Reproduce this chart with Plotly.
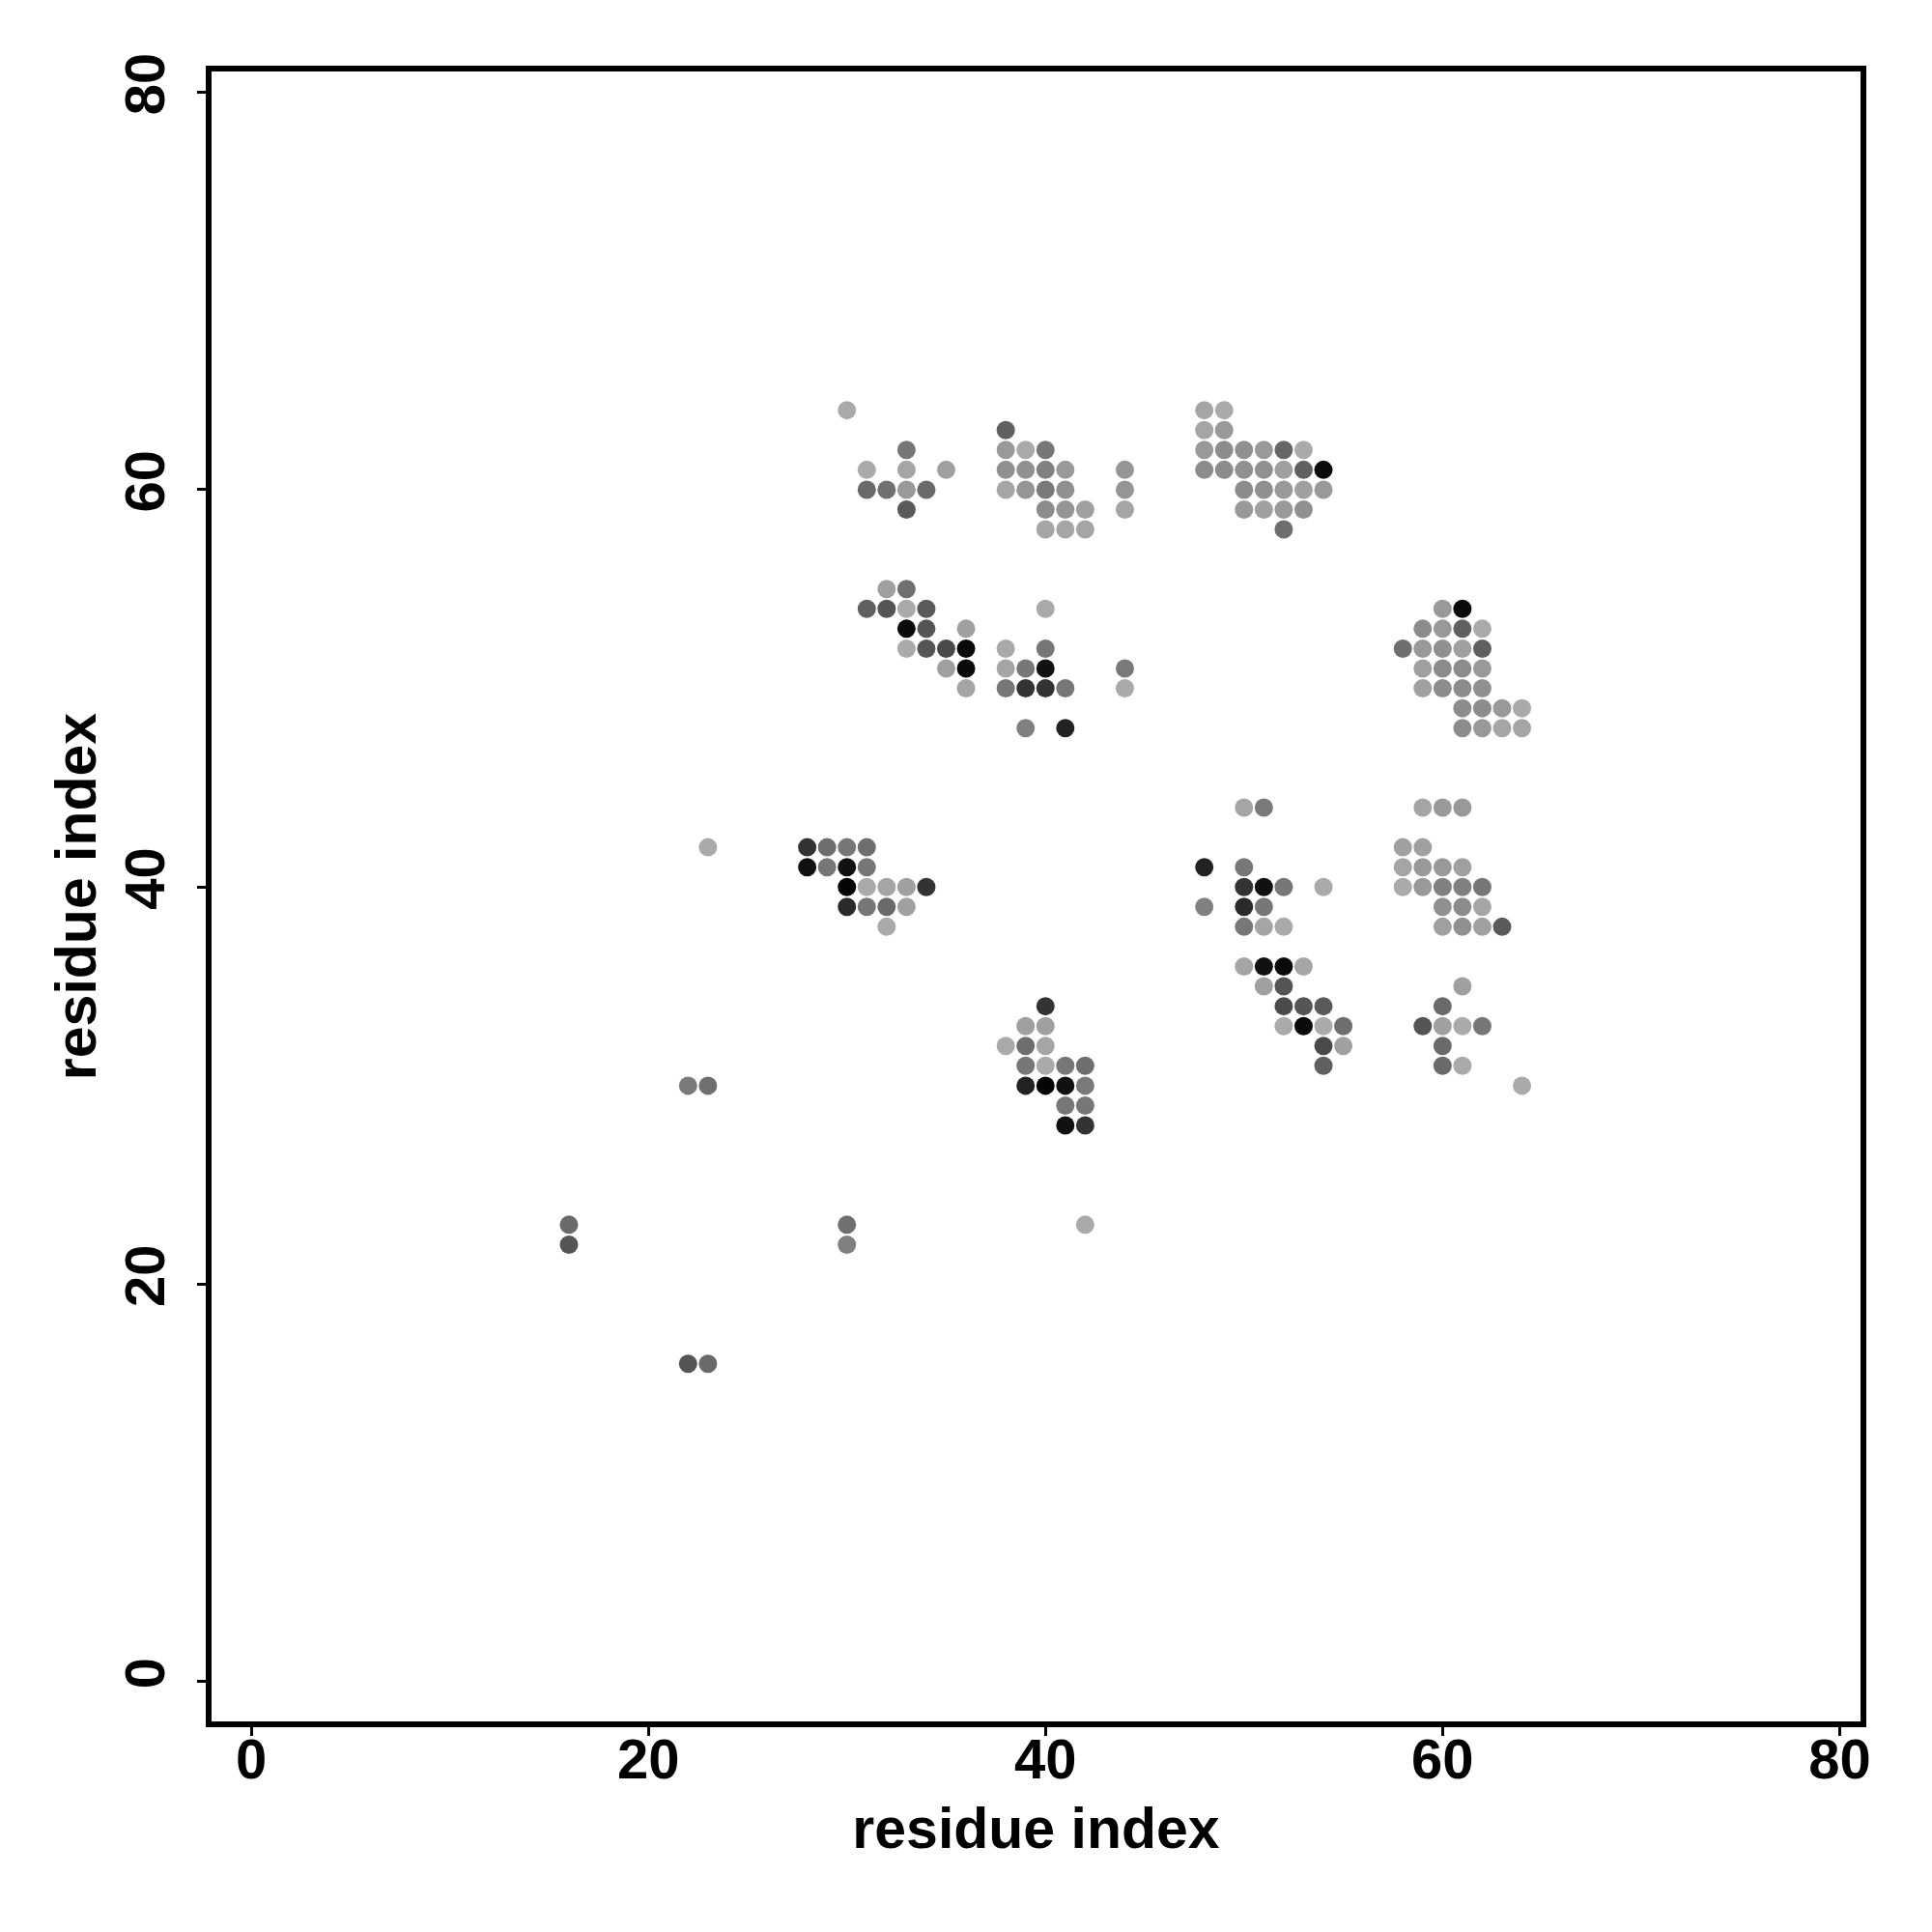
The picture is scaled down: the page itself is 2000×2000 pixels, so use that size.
import plotly.graph_objects as go

# residue i (x), residue j (y), grey level (0=black .. 255=white) of each contact dot
res_x = [
    30, 33, 31, 33, 35, 31, 32, 33, 34, 33,
    38, 38, 39, 40, 38, 39, 40, 41, 44, 38, 39, 40, 41, 44, 40, 41, 42, 44, 40, 41, 42,
    48, 49, 48, 49, 48, 49, 50, 51, 52, 53, 48, 49, 50, 51, 52, 53, 54, 50, 51, 52, 53, 54, 50, 51, 52, 53, 52,
    32, 33, 31, 32, 33, 34, 40, 33, 34, 36, 33, 34, 35, 36, 38, 40, 35, 36, 38, 39, 40, 44, 36, 38, 39, 40, 41, 44, 39, 41,
    60, 61, 59, 60, 61, 62, 58, 59, 60, 61, 62, 59, 60, 61, 62, 59, 60, 61, 62, 61, 62, 63, 64, 61, 62, 63, 64,
    28, 29, 30, 31, 28, 29, 30, 31, 30, 31, 32, 33, 34, 30, 31, 32, 33, 32,
    50, 51, 48, 50, 50, 51, 52, 54, 48, 50, 51, 50, 51, 52, 50, 51, 52, 53, 51, 52, 52, 53, 54, 52, 53, 54, 55, 54, 55, 54,
    59, 60, 61, 58, 59, 58, 59, 60, 61, 58, 59, 60, 61, 62, 60, 61, 62, 60, 61, 62, 63, 61, 60, 59, 60, 61, 62, 60, 60, 61, 64,
    40, 39, 40, 38, 39, 40, 39, 40, 41, 42, 39, 40, 41, 42, 41, 42, 41, 42,
    22, 23, 23, 16, 16, 30, 30, 42, 22, 23,
]
res_y = [
    64, 62, 61, 61, 61, 60, 60, 60, 60, 59,
    63, 62, 62, 62, 61, 61, 61, 61, 61, 60, 60, 60, 60, 60, 59, 59, 59, 59, 58, 58, 58,
    64, 64, 63, 63, 62, 62, 62, 62, 62, 62, 61, 61, 61, 61, 61, 61, 61, 60, 60, 60, 60, 60, 59, 59, 59, 59, 58,
    55, 55, 54, 54, 54, 54, 54, 53, 53, 53, 52, 52, 52, 52, 52, 52, 51, 51, 51, 51, 51, 51, 50, 50, 50, 50, 50, 50, 48, 48,
    54, 54, 53, 53, 53, 53, 52, 52, 52, 52, 52, 51, 51, 51, 51, 50, 50, 50, 50, 49, 49, 49, 49, 48, 48, 48, 48,
    42, 42, 42, 42, 41, 41, 41, 41, 40, 40, 40, 40, 40, 39, 39, 39, 39, 38,
    44, 44, 41, 41, 40, 40, 40, 40, 39, 39, 39, 38, 38, 38, 36, 36, 36, 36, 35, 35, 34, 34, 34, 33, 33, 33, 33, 32, 32, 31,
    44, 44, 44, 42, 42, 41, 41, 41, 41, 40, 40, 40, 40, 40, 39, 39, 39, 38, 38, 38, 38, 35, 34, 33, 33, 33, 33, 32, 31, 31, 30,
    34, 33, 33, 32, 32, 32, 31, 31, 31, 31, 30, 30, 30, 30, 29, 29, 28, 28,
    30, 30, 42, 23, 22, 23, 22, 23, 16, 16,
]
grey = [
    170, 119, 170, 165, 160, 106, 112, 153, 106, 90,
    96, 153, 170, 119, 144, 144, 128, 153, 149, 165, 149, 122, 144, 149, 140, 149, 160, 165, 165, 165, 165,
    165, 170, 165, 153, 153, 140, 144, 153, 102, 170, 140, 140, 144, 144, 160, 96, 10, 140, 144, 153, 160, 153, 153, 160, 153, 144, 110,
    160, 112, 96, 85, 170, 90, 170, 10, 85, 160, 170, 85, 74, 10, 170, 119, 160, 10, 165, 119, 17, 122, 165, 119, 51, 51, 119, 170, 128, 34,
    153, 10, 140, 153, 96, 170, 110, 153, 144, 160, 96, 160, 140, 140, 153, 160, 140, 140, 144, 140, 140, 153, 170, 140, 153, 165, 165,
    51, 110, 119, 110, 17, 119, 17, 119, 5, 170, 165, 160, 51, 42, 119, 106, 160, 170,
    165, 122, 34, 119, 51, 17, 119, 170, 128, 42, 119, 119, 165, 170, 165, 17, 10, 165, 160, 85, 74, 85, 90, 170, 10, 170, 110, 74, 160, 96,
    165, 153, 153, 160, 160, 165, 153, 153, 160, 170, 153, 128, 128, 119, 144, 140, 165, 160, 144, 160, 90, 160, 106, 85, 160, 170, 119, 106, 106, 170, 170,
    51, 160, 160, 170, 110, 165, 119, 170, 119, 110, 34, 5, 17, 122, 119, 119, 17, 51,
    122, 112, 170, 106, 85, 112, 128, 170, 85, 106,
]

tick_vals = [0, 20, 40, 60, 80]
tick_text = ["0", "20", "40", "60", "80"]
axis_title = "residue index"

colors = [f"rgb({g},{g},{g})" for g in grey]

fig = go.Figure(
    go.Scatter(
        x=res_x,
        y=res_y,
        mode="markers",
        marker=dict(size=19, color=colors, line=dict(width=0)),
        hoverinfo="x+y",
    )
)

font_family = "Liberation Sans, Arial, Helvetica, sans-serif"
common = dict(
    range=[-2.0, 81.05],
    tickmode="array",
    tickvals=tick_vals,
    ticktext=tick_text,
    ticks="outside",
    ticklen=9,
    tickwidth=3,
    tickcolor="black",
    showline=True,
    mirror=True,
    linewidth=6,
    linecolor="black",
    showgrid=False,
    zeroline=False,
    tickfont=dict(family=font_family, size=58, color="black", weight="bold"),
)

fig.update_layout(
    width=2000,
    height=2000,
    margin=dict(l=211, r=82, t=66, b=226),
    plot_bgcolor="white",
    paper_bgcolor="white",
    showlegend=False,
    xaxis=dict(
        **common,
        ticklabelstandoff=-26,
        title=dict(text=axis_title, standoff=22,
                   font=dict(family=font_family, size=59, color="black", weight="bold")),
    ),
    yaxis=dict(
        **common,
        tickangle=-90,
        ticklabelstandoff=11,
        title=dict(text=axis_title, standoff=0,
                   font=dict(family=font_family, size=59, color="black", weight="bold")),
    ),
)

fig.write_html("out.html")
